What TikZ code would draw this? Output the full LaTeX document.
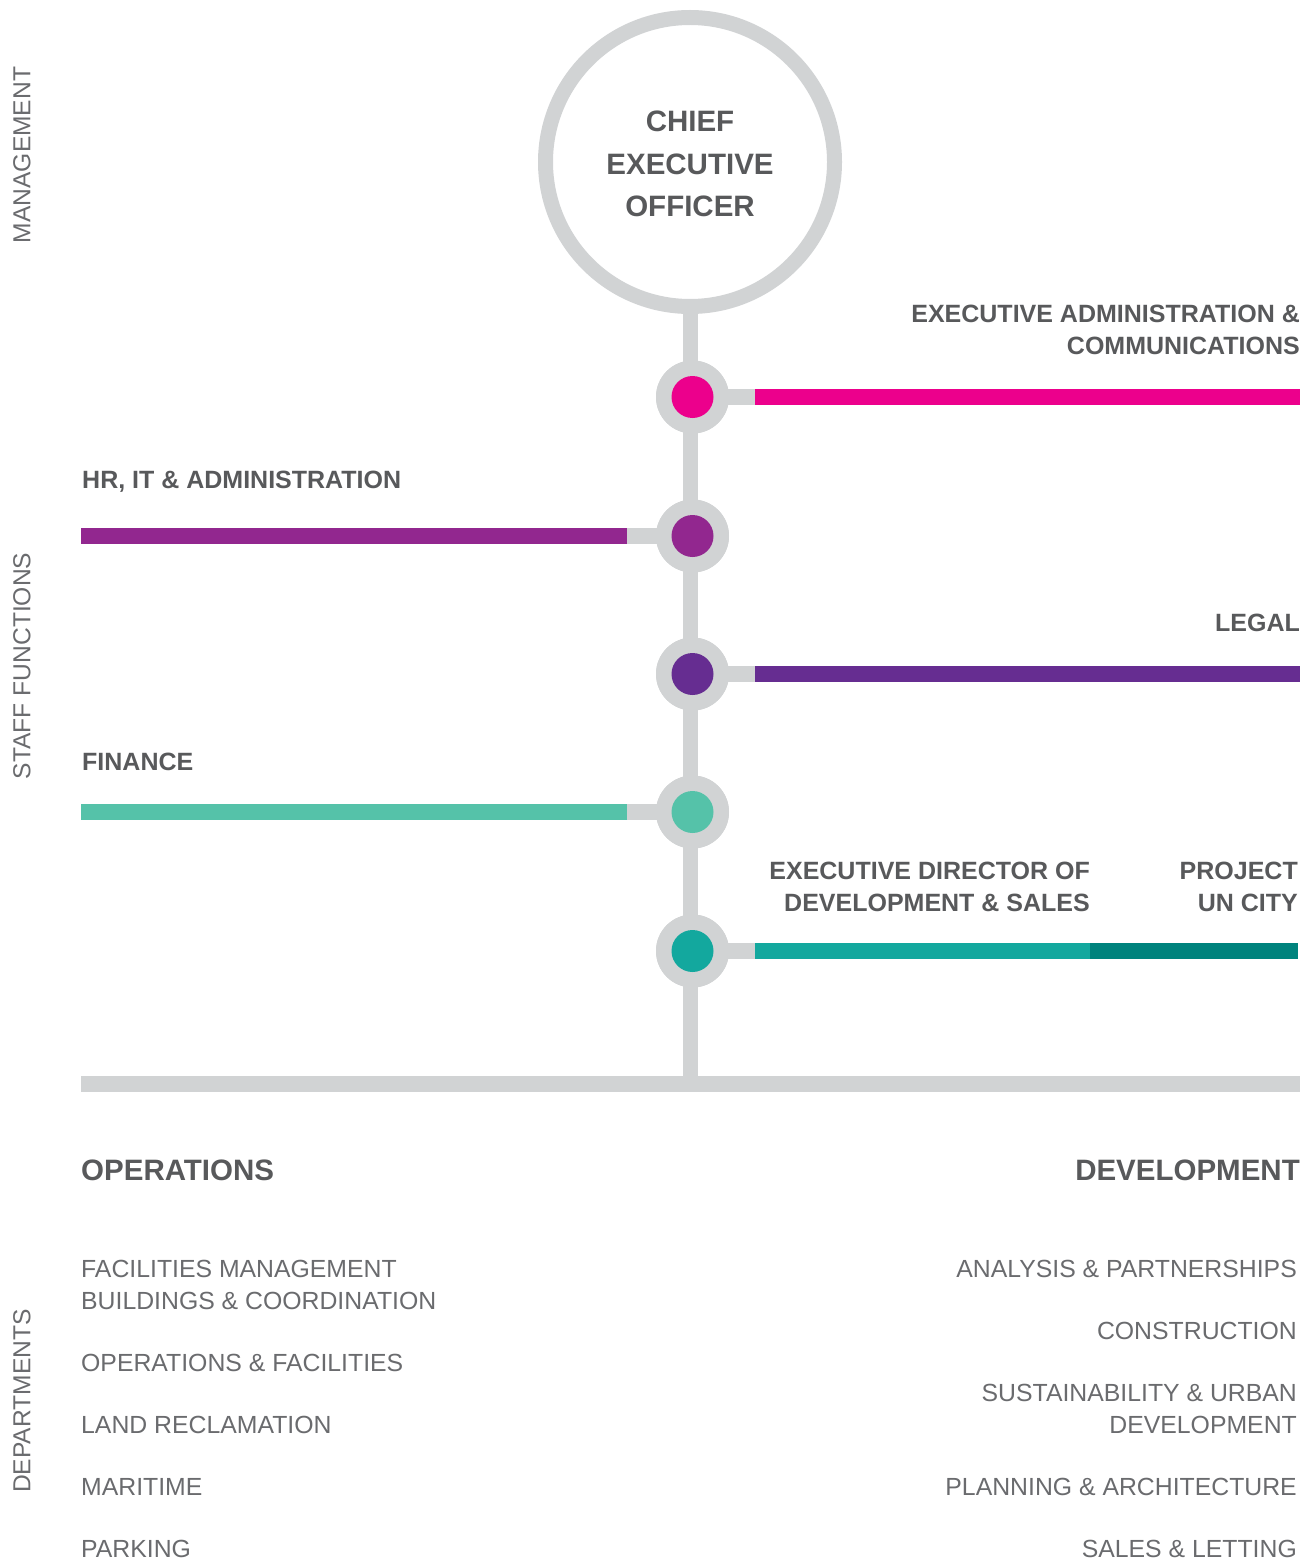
\documentclass[tikz,border=0pt]{standalone}
\usepackage{fontspec}
\setmainfont{Liberation Sans}
\definecolor{linegray}{HTML}{D1D3D4}
\definecolor{darktext}{HTML}{58595B}
\definecolor{lighttext}{HTML}{6A6B6E}
\definecolor{cmagenta}{HTML}{EC008C}
\definecolor{cplum}{HTML}{92278F}
\definecolor{cviolet}{HTML}{662D91}
\definecolor{cmint}{HTML}{55C2A9}
\definecolor{cteal}{HTML}{13A89E}
\definecolor{cdeepteal}{HTML}{00837D}
\begin{document}
\begin{tikzpicture}[x=1pt,y=-1pt,
  trunk/.style={draw=linegray, line width=15pt},
  stub/.style={draw=linegray, line width=16pt},
  bar/.style={line width=16pt},
  hub/.style={circle, fill=linegray, minimum size=73pt, inner sep=0pt},
  dot/.style={circle, minimum size=42pt, inner sep=0pt},
  headbig/.style={inner sep=0pt, text=darktext, font=\fontsize{29.5}{42}\selectfont\bfseries},
  headlbl/.style={inner sep=0pt, text=darktext, font=\fontsize{25}{32}\selectfont\bfseries},
  dept/.style={inner sep=0pt, text=lighttext, font=\fontsize{24.8}{32}\selectfont},
  side/.style={inner sep=0pt, text=lighttext, font=\fontsize{24.6}{32}\selectfont, rotate=90}
]
\useasboundingbox (0,0) rectangle (1312,1562);

% side captions
\node[side] (capMgmt) at (22,155) {MANAGEMENT};
\node[side] (capStaff) at (22,666) {STAFF FUNCTIONS};
\node[side] (capDept) at (22,1401) {DEPARTMENTS};

% chief executive ring
\node[circle, draw=linegray, line width=15pt, minimum size=289pt, inner sep=0pt] (ceo) at (690,162) {};
\node[headbig, anchor=base] (ceo1) at (690,131.4) {CHIEF};
\node[headbig, anchor=base] (ceo2) at (690,174.4) {EXECUTIVE};
\node[headbig, anchor=base] (ceo3) at (690,216.4) {OFFICER};

% trunk and base rail
\coordinate (trunkEnd) at (690,1084);
\coordinate (railL) at (81,1084);
\coordinate (railR) at (1300,1084);
\draw[trunk] (ceo.south) -- (trunkEnd);
\draw[stub] (railL) -- (railR);

% hubs on the trunk
\node[hub] (h1) at (692.5,397) {};
\node[hub] (h2) at (692.5,536) {};
\node[hub] (h3) at (692.5,674) {};
\node[hub] (h4) at (692.5,812) {};
\node[hub] (h5) at (692.5,951) {};

% branch coordinates
\coordinate (s1) at (755,397);   \coordinate (e1) at (1300,397);
\coordinate (s2) at (627,536);   \coordinate (e2) at (81,536);
\coordinate (s3) at (755,674);   \coordinate (e3) at (1300,674);
\coordinate (s4) at (627,812);   \coordinate (e4) at (81,812);
\coordinate (s5) at (755,951);   \coordinate (m5) at (1090,951); \coordinate (e5) at (1298,951);

% grey stubs from the hubs
\draw[stub] (h1.center) -- (s1);
\draw[stub] (h2.center) -- (s2);
\draw[stub] (h3.center) -- (s3);
\draw[stub] (h4.center) -- (s4);
\draw[stub] (h5.center) -- (s5);

% coloured branches
\draw[bar, cmagenta] (s1) -- (e1);
\draw[bar, cplum] (s2) -- (e2);
\draw[bar, cviolet] (s3) -- (e3);
\draw[bar, cmint] (s4) -- (e4);
\draw[bar, cteal] (s5) -- (m5);
\draw[bar, cdeepteal] (m5) -- (e5);

% redraw hubs over the stubs, then the coloured dots
\foreach \h in {h1,h2,h3,h4,h5} \fill[linegray] (\h) circle (36.5pt);
\node[dot, fill=cmagenta] (d1) at (h1) {};
\node[dot, fill=cplum] (d2) at (h2) {};
\node[dot, fill=cviolet] (d3) at (h3) {};
\node[dot, fill=cmint] (d4) at (h4) {};
\node[dot, fill=cteal] (d5) at (h5) {};

% branch labels
\node[headlbl, anchor=base east] (l1a) at (1300,322) {EXECUTIVE ADMINISTRATION \&};
\node[headlbl, anchor=base east] (l1b) at (1300,354) {COMMUNICATIONS};
\node[headlbl, anchor=base west] (l2) at (82,488) {HR, IT \& ADMINISTRATION};
\node[headlbl, anchor=base east] (l3) at (1300,631) {LEGAL};
\node[headlbl, anchor=base west] (l4) at (82,770) {FINANCE};
\node[headlbl, anchor=base east] (l5a) at (1090,879) {EXECUTIVE DIRECTOR OF};
\node[headlbl, anchor=base east] (l5b) at (1090,911) {DEVELOPMENT \& SALES};
\node[headlbl, anchor=base east] (l6a) at (1298,879) {PROJECT};
\node[headlbl, anchor=base east] (l6b) at (1298,911) {UN CITY};

% department headings
\node[headbig, anchor=base west] (ops) at (81,1180.4) {OPERATIONS};
\node[headbig, anchor=base east] (dev) at (1300,1180.4) {DEVELOPMENT};

% operations departments
\node[dept, anchor=base west] (o1a) at (81,1277.6) {FACILITIES MANAGEMENT};
\node[dept, anchor=base west] (o1b) at (81,1309.6) {BUILDINGS \& COORDINATION};
\node[dept, anchor=base west] (o2) at (81,1371.6) {OPERATIONS \& FACILITIES};
\node[dept, anchor=base west] (o3) at (81,1433.6) {LAND RECLAMATION};
\node[dept, anchor=base west] (o4) at (81,1495.6) {MARITIME};
\node[dept, anchor=base west] (o5) at (81,1557.6) {PARKING};

% development departments
\node[dept, anchor=base east] (v1) at (1297,1277.6) {ANALYSIS \& PARTNERSHIPS};
\node[dept, anchor=base east] (v2) at (1297,1339.6) {CONSTRUCTION};
\node[dept, anchor=base east] (v3a) at (1297,1401.6) {SUSTAINABILITY \& URBAN};
\node[dept, anchor=base east] (v3b) at (1297,1433.6) {DEVELOPMENT};
\node[dept, anchor=base east] (v4) at (1297,1495.6) {PLANNING \& ARCHITECTURE};
\node[dept, anchor=base east] (v5) at (1297,1557.6) {SALES \& LETTING};
\end{tikzpicture}
\end{document}
